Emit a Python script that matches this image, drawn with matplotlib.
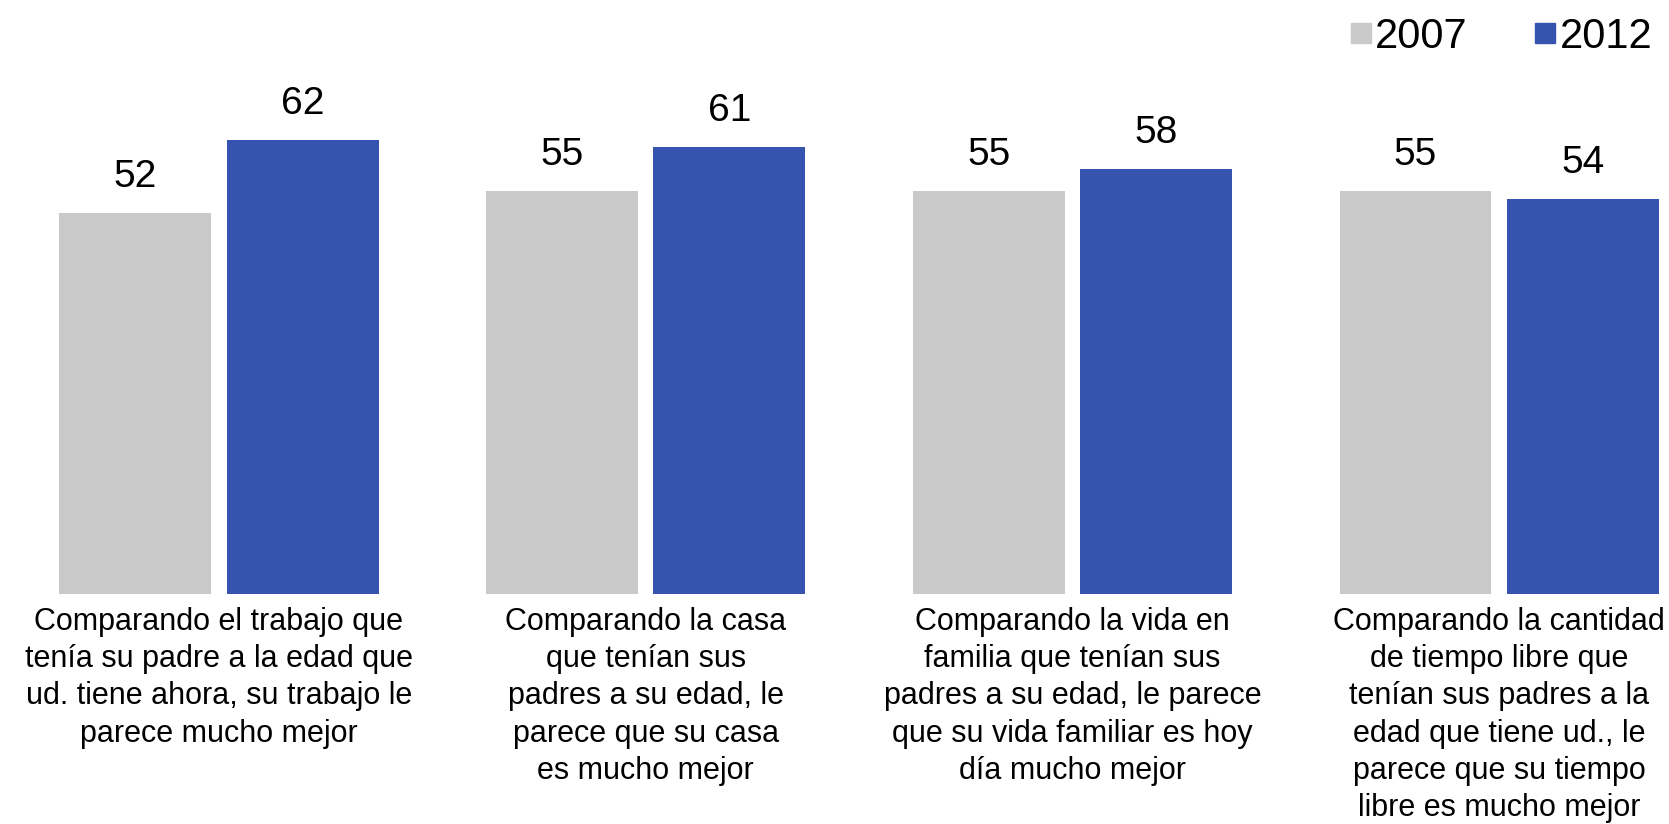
import matplotlib
matplotlib.use("Agg")
import matplotlib.pyplot as plt
from matplotlib.lines import Line2D
import numpy as np

plt.rcParams['font.family'] = ['Liberation Sans', 'DejaVu Sans']

# data
categories = [
    "Comparando el trabajo que\ntenía su padre a la edad que\nud. tiene ahora, su trabajo le\nparece mucho mejor",
    "Comparando la casa\nque tenían sus\npadres a su edad, le\nparece que su casa\nes mucho mejor",
    "Comparando la vida en\nfamilia que tenían sus\npadres a su edad, le parece\nque su vida familiar es hoy\ndía mucho mejor",
    "Comparando la cantidad\nde tiempo libre que\ntenían sus padres a la\nedad que tiene ud., le\nparece que su tiempo\nlibre es mucho mejor",
]
series_names = ["2007", "2012"]
values_2007 = [52, 55, 55, 55]
values_2012 = [62, 61, 58, 54]

color2007 = "#C9C9C9"
color2012 = "#3753B0"

fig = plt.figure(figsize=(16.69, 8.24), dpi=100)
ax = fig.add_axes([0, 0.279, 1, 0.622])

x = np.arange(len(categories))
w = 0.356
off = 0.196
b1 = ax.bar(x - off, values_2007, width=w, color=color2007)
b2 = ax.bar(x + off, values_2012, width=w, color=color2012)

for bars in (b1, b2):
    for rect in bars:
        h = rect.get_height()
        ax.annotate(f"{h:.0f}", (rect.get_x() + rect.get_width() / 2, h),
                    xytext=(0, 13), textcoords="offset points",
                    ha="center", va="bottom", fontsize=28)

ax.set_xlim(-0.513, 3.398)
ax.set_ylim(0, 70)
ax.set_xticks(x)
ax.set_xticklabels(categories, fontsize=22, linespacing=1.32)
ax.tick_params(axis='x', length=0, pad=9)
ax.set_yticks([])
for s in ax.spines.values():
    s.set_visible(False)

handles = [Line2D([], [], marker='s', linestyle='none', markersize=14.5,
                  markerfacecolor=c, markeredgecolor=c)
           for c in (color2007, color2012)]
fig.legend(handles, series_names, loc='upper right', bbox_to_anchor=(1.0, 1.0),
           ncol=2, frameon=False, fontsize=30, handletextpad=0.05,
           columnspacing=1.55, handlelength=0.6, borderaxespad=0.0)

fig.savefig("out.png", dpi=100)
